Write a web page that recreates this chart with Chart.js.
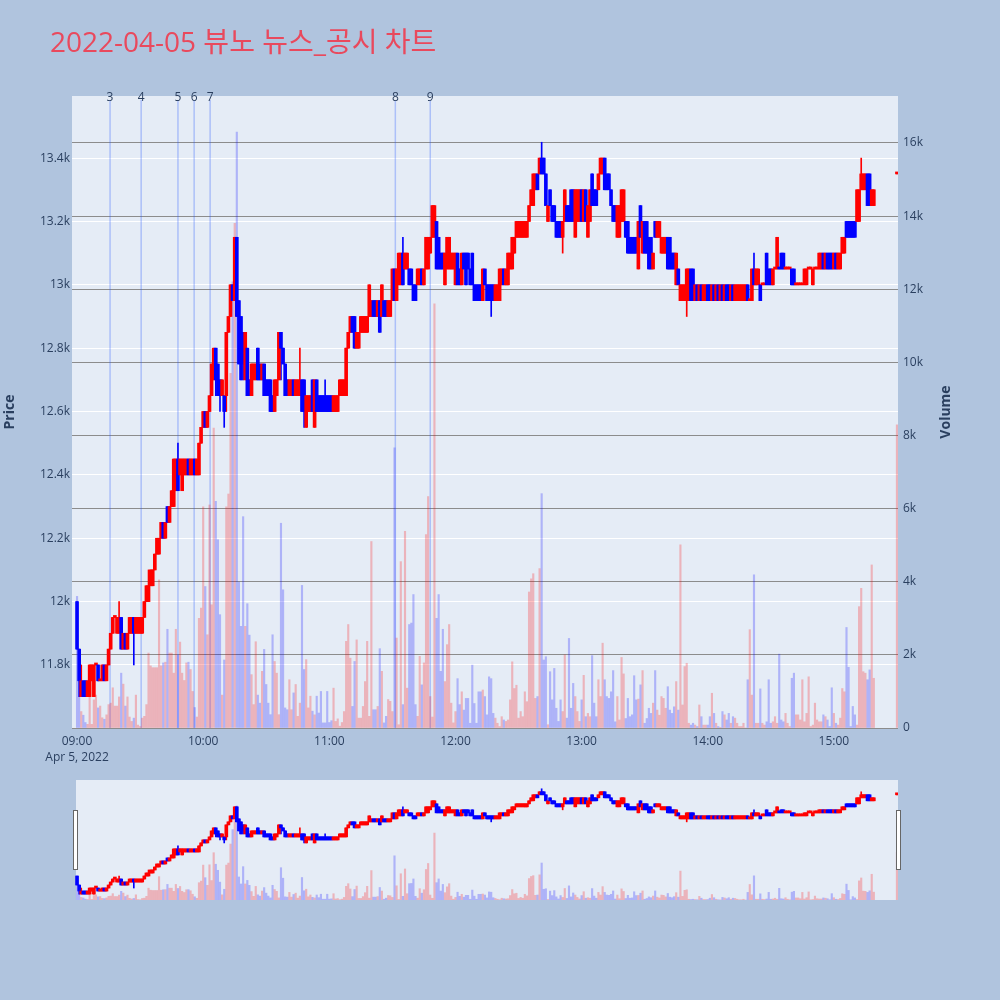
<!DOCTYPE html>
<html>
<head>
<meta charset="utf-8">
<title>2022-04-05 뷰노 뉴스_공시 차트</title>
<script src="https://cdn.jsdelivr.net/npm/chart.js@4.4.1/dist/chart.umd.min.js"></script>
<style>
  html, body { margin: 0; padding: 0; background: #b0c4de; }
  #wrap { position: relative; width: 1000px; height: 1000px; overflow: hidden; }
  #title { position: absolute; left: 50px; top: 20px; font-family: "Open Sans", "Noto Sans CJK KR", sans-serif;
           font-size: 28px; color: #e9495d; white-space: nowrap; }
  #mainChart { position: absolute; left: 0; top: 0; }
  #sliderChart { position: absolute; left: 0; top: 770px; }
</style>
</head>
<body>
<div id="wrap">
  <canvas id="mainChart" width="1000" height="780"></canvas>
  <canvas id="sliderChart" width="1000" height="140"></canvas>
  <div id="title">2022-04-05 뷰노 뉴스_공시 차트</div>
</div>
<script>
// 1-minute candles, 09:00 - 15:19, then the 15:30 closing auction
const times = [];
for (let m = 0; m < 380; m++) times.push(m);
times.push(390);

const opens = [
  12000,11850,11700,11750,11750,11700,11700,11750,11700,11800,
  11800,11750,11750,11800,11750,11800,11850,11900,11950,11900,
  11900,11950,11850,11900,11850,11900,11900,11950,11900,11900,
  11900,11900,11950,12000,12000,12050,12050,12100,12150,12150,
  12200,12250,12200,12300,12250,12300,12300,12350,12450,12400,
  12350,12400,12400,12450,12400,12400,12450,12400,12400,12500,
  12550,12600,12550,12600,12650,12700,12800,12750,12700,12650,
  12650,12650,12850,12900,13000,12950,13150,12950,12900,12850,
  12700,12800,12700,12650,12700,12700,12800,12750,12700,12750,
  12700,12700,12700,12650,12600,12650,12700,12850,12800,12750,
  12700,12650,12650,12700,12650,12650,12650,12700,12700,12550,
  12600,12600,12700,12550,12700,12650,12650,12650,12650,12650,
  12650,12650,12600,12600,12600,12650,12650,12650,12650,12800,
  12850,12900,12900,12800,12800,12850,12850,12850,12850,12900,
  12900,12950,12950,12900,12950,12900,12950,12950,12900,12900,
  12950,13050,12950,13000,13000,13100,13050,13050,13050,13050,
  13000,13000,13000,13000,13050,13000,13050,13050,13100,13150,
  13150,13200,13150,13100,13100,13000,13050,13050,13050,13050,
  13000,13100,13050,13000,13100,13100,13100,13050,13100,13000,
  13000,13000,13000,12950,13050,13000,13000,13000,13000,12950,
  12950,12950,13000,13050,13000,13000,13050,13050,13100,13150,
  13150,13150,13150,13150,13150,13200,13250,13250,13300,13350,
  13350,13400,13400,13350,13200,13300,13250,13250,13200,13200,
  13200,13150,13200,13250,13250,13300,13300,13150,13200,13200,
  13300,13200,13300,13150,13200,13350,13300,13300,13300,13350,
  13350,13400,13350,13350,13300,13250,13250,13150,13150,13200,
  13200,13200,13200,13150,13150,13150,13150,13050,13250,13100,
  13200,13200,13150,13150,13050,13200,13150,13150,13100,13100,
  13100,13150,13150,13100,13100,13000,13050,12950,12950,12950,
  12950,12950,13050,13050,12950,13000,12950,13000,12950,12950,
  13000,13000,12950,13000,12950,13000,12950,13000,12950,13000,
  13000,12950,13000,12950,12950,12950,12950,12950,12950,13000,
  12950,12950,13050,13000,13000,13000,13000,13000,13100,13050,
  13050,13000,13050,13050,13050,13100,13100,13050,13050,13050,
  13050,13050,13000,13000,13000,13000,13000,13000,13050,13050,
  13000,13050,13050,13050,13050,13100,13050,13100,13100,13100,
  13050,13100,13050,13050,13100,13100,13200,13200,13200,13200,
  13200,13200,13200,13300,13300,13300,13350,13350,13250,13250,
  13350
];
const highs = [
  12000,11850,11800,11750,11750,11750,11800,11800,11800,11800,
  11800,11750,11800,11800,11800,11850,11900,11950,11950,11950,
  12000,11950,11900,11900,11900,11950,11950,11950,11950,11950,
  11950,11950,12000,12050,12100,12100,12100,12150,12200,12200,
  12250,12250,12250,12300,12300,12350,12450,12450,12500,12450,
  12450,12450,12450,12450,12450,12450,12450,12450,12500,12550,
  12600,12600,12600,12650,12750,12800,12800,12750,12700,12700,
  12650,12850,12900,13000,13000,13150,13150,12950,12900,12850,
  12850,12800,12700,12750,12750,12750,12800,12750,12750,12750,
  12700,12700,12700,12650,12700,12700,12850,12850,12800,12750,
  12700,12700,12700,12700,12700,12700,12800,12700,12700,12650,
  12650,12650,12700,12700,12700,12650,12650,12650,12700,12650,
  12650,12650,12650,12650,12650,12700,12700,12700,12800,12850,
  12900,12900,12900,12850,12850,12900,12900,12900,12900,13000,
  12950,12950,12950,12950,12950,13000,12950,12950,12950,12950,
  13050,13050,13050,13100,13100,13150,13100,13100,13050,13050,
  13000,13000,13050,13050,13050,13050,13150,13150,13150,13250,
  13250,13200,13150,13100,13100,13100,13150,13150,13100,13100,
  13100,13100,13050,13100,13100,13100,13100,13050,13100,13000,
  13000,13000,13000,13050,13050,13000,13000,13000,13000,13000,
  13000,13050,13050,13050,13050,13100,13100,13150,13150,13200,
  13200,13200,13200,13200,13200,13250,13300,13350,13350,13350,
  13400,13450,13400,13350,13250,13300,13250,13250,13200,13200,
  13200,13200,13300,13250,13250,13300,13300,13300,13300,13300,
  13300,13300,13300,13250,13300,13350,13300,13300,13350,13400,
  13400,13400,13350,13350,13300,13250,13250,13250,13250,13300,
  13300,13200,13200,13150,13150,13150,13150,13200,13250,13200,
  13200,13200,13150,13150,13100,13200,13200,13200,13150,13150,
  13150,13150,13150,13100,13100,13100,13050,13000,13000,13000,
  13050,13050,13050,13050,13000,13000,13000,13000,13000,13000,
  13000,13000,13000,13000,13000,13000,13000,13000,13000,13000,
  13000,13000,13000,13000,13000,13000,13000,13000,13000,13000,
  12950,13050,13100,13050,13050,13000,13000,13000,13100,13050,
  13050,13050,13050,13150,13050,13100,13100,13050,13050,13050,
  13050,13050,13000,13000,13000,13000,13050,13050,13050,13050,
  13050,13050,13050,13100,13100,13100,13100,13100,13100,13100,
  13100,13100,13100,13100,13150,13150,13200,13200,13200,13200,
  13200,13300,13300,13400,13350,13350,13350,13350,13300,13300,
  13350
];
const lows = [
  11850,11700,11700,11700,11700,11700,11700,11750,11700,11800,
  11750,11750,11750,11750,11750,11800,11850,11900,11950,11900,
  11900,11850,11850,11850,11850,11900,11900,11800,11900,11900,
  11900,11900,11950,12000,12000,12050,12050,12100,12150,12150,
  12200,12200,12200,12250,12250,12300,12300,12350,12350,12400,
  12350,12400,12400,12400,12400,12400,12400,12400,12400,12500,
  12550,12550,12550,12600,12650,12700,12650,12650,12600,12650,
  12550,12600,12850,12900,12950,12950,12900,12750,12700,12700,
  12700,12650,12650,12650,12700,12700,12700,12700,12700,12650,
  12650,12650,12600,12600,12600,12650,12700,12700,12750,12650,
  12650,12650,12650,12650,12650,12650,12650,12600,12550,12550,
  12600,12600,12600,12550,12600,12600,12600,12600,12600,12600,
  12600,12600,12600,12600,12600,12650,12650,12650,12650,12800,
  12850,12850,12800,12800,12800,12850,12850,12850,12850,12900,
  12900,12900,12900,12900,12850,12900,12900,12900,12900,12900,
  12950,12950,12950,13000,13000,13000,13050,13050,13000,13000,
  12950,12950,13000,13000,13000,13000,13050,13050,13100,13150,
  13150,13050,13050,13050,13050,13000,13050,13050,13050,13050,
  13000,13000,13000,13000,13050,13000,13050,13000,13000,12950,
  12950,12950,12950,12950,13000,12950,12950,12900,12950,12950,
  12950,12950,13000,13000,13000,13000,13050,13050,13100,13150,
  13150,13150,13150,13150,13150,13200,13250,13250,13300,13300,
  13350,13350,13350,13250,13200,13250,13200,13200,13150,13150,
  13150,13100,13200,13200,13200,13200,13200,13150,13200,13200,
  13200,13200,13200,13150,13200,13250,13250,13250,13300,13350,
  13350,13300,13300,13300,13250,13200,13200,13150,13150,13200,
  13200,13150,13100,13100,13100,13100,13100,13050,13150,13100,
  13100,13100,13050,13050,13050,13150,13150,13150,13100,13100,
  13100,13050,13050,13050,13050,13000,13000,12950,12950,12950,
  12900,12950,12950,12950,12950,12950,12950,12950,12950,12950,
  12950,12950,12950,12950,12950,12950,12950,12950,12950,12950,
  12950,12950,12950,12950,12950,12950,12950,12950,12950,12950,
  12950,12950,13000,13000,13000,12950,13000,13000,13000,13000,
  13000,13000,13050,13050,13050,13050,13050,13050,13050,13050,
  13000,13000,13000,13000,13000,13000,13000,13000,13050,13050,
  13000,13050,13050,13050,13050,13050,13050,13050,13050,13050,
  13050,13050,13050,13050,13100,13100,13150,13150,13150,13150,
  13150,13200,13200,13300,13300,13300,13250,13250,13250,13250,
  13350
];
const closes = [
  11850,11750,11750,11700,11700,11750,11800,11800,11800,11800,
  11750,11750,11800,11750,11800,11850,11900,11950,11950,11950,
  11950,11850,11900,11850,11900,11950,11950,11900,11950,11950,
  11950,11950,12000,12050,12050,12100,12100,12150,12200,12200,
  12250,12200,12250,12250,12300,12350,12450,12450,12350,12450,
  12450,12450,12450,12400,12450,12450,12400,12450,12500,12550,
  12600,12550,12600,12650,12750,12800,12700,12650,12650,12700,
  12600,12850,12900,13000,12950,13150,12900,12750,12700,12750,
  12850,12650,12650,12750,12750,12750,12700,12700,12750,12650,
  12650,12650,12600,12600,12700,12700,12850,12800,12750,12650,
  12650,12700,12700,12650,12700,12700,12700,12600,12600,12650,
  12650,12650,12600,12700,12600,12600,12600,12600,12600,12600,
  12600,12600,12650,12650,12650,12700,12700,12700,12800,12850,
  12900,12850,12800,12850,12850,12900,12900,12900,12900,13000,
  12950,12900,12900,12950,12850,13000,12900,12900,12950,12950,
  13050,12950,13050,13100,13100,13000,13100,13100,13000,13000,
  12950,12950,13050,13050,13000,13050,13150,13150,13150,13250,
  13250,13050,13050,13050,13050,13100,13150,13150,13100,13100,
  13100,13000,13000,13100,13050,13000,13050,13000,13000,12950,
  12950,12950,12950,13050,13000,12950,12950,12950,12950,13000,
  13000,13050,13050,13000,13050,13100,13100,13150,13150,13200,
  13200,13200,13200,13200,13200,13250,13300,13350,13350,13300,
  13400,13350,13350,13250,13250,13250,13200,13200,13150,13150,
  13150,13200,13300,13200,13200,13200,13200,13300,13300,13300,
  13200,13300,13200,13250,13300,13250,13250,13250,13350,13400,
  13400,13300,13300,13300,13250,13200,13200,13250,13250,13300,
  13300,13150,13100,13100,13100,13100,13100,13200,13150,13200,
  13100,13100,13050,13050,13100,13150,13200,13200,13150,13150,
  13150,13050,13050,13050,13050,13100,13000,13000,13000,13000,
  13050,13050,12950,12950,13000,12950,13000,12950,13000,13000,
  12950,12950,13000,12950,13000,12950,13000,12950,13000,12950,
  12950,13000,12950,13000,13000,13000,13000,13000,13000,12950,
  12950,13050,13000,13050,13050,12950,13000,13000,13000,13000,
  13000,13050,13050,13150,13050,13050,13050,13050,13050,13050,
  13000,13000,13000,13000,13000,13000,13050,13050,13050,13050,
  13050,13050,13050,13100,13100,13050,13100,13050,13050,13050,
  13100,13050,13100,13100,13150,13150,13150,13150,13150,13150,
  13150,13300,13300,13350,13350,13350,13250,13250,13300,13300,
  13350
];
const volumes = [
  3600,1700,450,350,150,100,950,100,770,900,
  550,600,280,240,360,640,680,1100,600,600,
  850,1500,1200,600,850,300,180,270,900,80,
  40,270,320,640,2050,1700,1650,1650,1650,4050,
  1700,1780,1800,2700,2050,2050,1500,2700,2000,2350,
  1500,1300,1780,1800,1600,1000,560,300,3000,3280,
  6050,3870,2550,6100,3370,8200,6200,5150,3100,900,
  1860,6050,6400,9700,12200,13800,16300,3990,2780,5780,
  2780,3400,2540,1460,640,2360,900,680,1550,2150,
  1190,680,365,2550,1820,1500,365,5600,3780,550,
  500,1320,500,960,1190,320,680,3900,1600,1870,
  550,870,460,360,870,410,1000,140,140,1000,
  150,200,1090,180,250,50,150,450,2370,2830,
  1910,590,1820,2410,270,270,590,1270,2370,320,
  5100,500,500,590,2170,1550,140,320,780,730,
  450,7660,2460,90,4550,640,5380,1090,2830,2870,
  3650,640,320,1960,1180,1780,5290,6330,860,300,
  11600,3000,3650,1550,2700,1270,2280,2830,680,140,
  450,1350,640,990,490,810,810,130,1720,670,
  130,990,990,1040,860,360,1400,1350,400,270,
  130,40,310,220,180,220,770,1810,1080,1170,
  270,450,310,990,720,3720,4080,4220,810,860,
  4360,6410,1860,1950,90,1540,770,1630,540,180,
  770,450,2000,270,2450,540,1220,860,450,180,
  770,1440,310,400,310,1980,680,310,1320,860,
  2320,1320,860,810,990,1570,170,860,220,1930,
  1480,260,810,310,360,1430,770,790,1180,1570,
  130,260,540,400,680,1570,490,350,860,810,
  540,1130,490,400,580,1270,490,5010,630,1680,
  1770,130,80,130,80,40,630,310,80,80,
  80,310,950,400,130,40,20,450,360,220,
  400,130,310,270,130,40,40,130,0,1320,
  2690,900,4190,130,130,1070,130,80,170,1320,
  130,170,310,130,2020,220,170,400,130,40,
  1360,1500,360,360,220,1320,170,400,1400,40,
  80,680,220,170,170,360,310,220,40,1100,
  400,130,80,270,1080,990,2750,1660,40,590,
  360,80,3320,3820,1540,1500,1320,1590,4460,1360,
  8290
];

// news / disclosure markers (minutes after 09:00)
const newsMinutes = [15.7, 30.5, 48, 55.7, 63.3, 151.4, 168];
const newsLabels = ['3', '4', '5', '6', '7', '8', '9'];

const hourTicks = [0, 60, 120, 180, 240, 300, 360];
const hourLabels = ['09:00', '10:00', '11:00', '12:00', '13:00', '14:00', '15:00'];
const dateLabel = 'Apr 5, 2022';
const priceTicks = [11800, 12000, 12200, 12400, 12600, 12800, 13000, 13200, 13400];
const volumeTicks = [0, 2000, 4000, 6000, 8000, 10000, 12000, 14000, 16000];

const PRICE_MIN = 11601, PRICE_MAX = 13596;
const VOL_MAX = 17285;
const SLIDER_VOL_MAX = 20800;
const TEXT = '#2a3f5f';

Chart.defaults.font.family = '"Open Sans", "Noto Sans CJK KR", sans-serif';
Chart.defaults.font.size = 12;
Chart.defaults.color = TEXT;

const isUp = (i) => {
  if (closes[i] !== opens[i]) return closes[i] > opens[i];
  return i === 0 || closes[i] >= closes[i - 1];
};
const candleColors = times.map((t, i) => (isUp(i) ? '#ff0000' : '#0000ff'));
const volColors = times.map((t, i) => (isUp(i) ? 'rgba(255,0,0,0.24)' : 'rgba(0,0,255,0.24)'));

const fmtK = (v) => (v === 0 ? '0' : `${v / 1000}k`);

const makeDatasets = (volThick, wickThick, bodyThick) => [
  {
    label: 'Volume', yAxisID: 'yVol', order: 3, grouped: false,
    data: times.map((t, i) => ({ x: t, y: volumes[i] })),
    backgroundColor: volColors, barThickness: volThick,
  },
  {
    label: 'Wick', yAxisID: 'yPrice', order: 2, grouped: false,
    data: times.map((t, i) => ({ x: t, y: [lows[i], highs[i]] })),
    backgroundColor: candleColors, barThickness: wickThick, minBarLength: 1,
  },
  {
    label: 'Price', yAxisID: 'yPrice', order: 1, grouped: false,
    data: times.map((t, i) => ({ x: t, y: [opens[i], closes[i]] })),
    backgroundColor: candleColors, barThickness: bodyThick, minBarLength: 2,
  },
];

const plotBg = {
  id: 'plotBg',
  beforeDraw(chart, args, opts) {
    const { ctx, chartArea: a } = chart;
    const left = a.left + (opts.inset || 0);
    ctx.save();
    ctx.fillStyle = '#e5ecf6';
    ctx.fillRect(left, a.top, a.right - left, a.bottom - a.top);
    ctx.restore();
  },
};

const newsLines = {
  id: 'newsLines',
  beforeDatasetsDraw(chart) {
    const { ctx, chartArea: a, scales } = chart;
    ctx.save();
    ctx.strokeStyle = 'rgba(40,90,255,0.3)';
    ctx.lineWidth = 1.5;
    newsMinutes.forEach((m) => {
      const x = scales.x.getPixelForValue(m);
      ctx.beginPath();
      ctx.moveTo(x, a.top + 4);
      ctx.lineTo(x, a.bottom);
      ctx.stroke();
    });
    ctx.restore();
  },
  afterDraw(chart) {
    const { ctx, chartArea: a, scales } = chart;
    ctx.save();
    ctx.fillStyle = TEXT;
    ctx.font = '12px "Open Sans"';
    ctx.textAlign = 'center';
    ctx.textBaseline = 'alphabetic';
    newsMinutes.forEach((m, i) => {
      ctx.fillText(newsLabels[i], scales.x.getPixelForValue(m), a.top + 5);
    });
    // axis titles
    const midY = (a.top + a.bottom) / 2;
    ctx.font = 'bold 14px "Open Sans"';
    ctx.textBaseline = 'middle';
    ctx.translate(10, midY);
    ctx.rotate(-Math.PI / 2);
    ctx.fillText('Price', 0, 0);
    ctx.rotate(Math.PI / 2);
    ctx.translate(-10, -midY);
    ctx.translate(946, midY);
    ctx.rotate(-Math.PI / 2);
    ctx.fillText('Volume', 0, 0);
    ctx.restore();
  },
};

new Chart(document.getElementById('mainChart'), {
  type: 'bar',
  data: { datasets: makeDatasets(1.5, 1, 3) },
  options: {
    responsive: false,
    animation: false,
    devicePixelRatio: 1,
    layout: { padding: { top: 96, left: 0, right: 0, bottom: 0 } },
    plugins: { legend: { display: false }, tooltip: { enabled: false }, plotBg: { inset: 0 } },
    scales: {
      x: {
        type: 'linear', min: -2.4, max: 390.5, offset: false,
        grid: { display: false, drawTicks: false }, border: { display: false },
        afterBuildTicks: (s) => { s.ticks = hourTicks.map((v) => ({ value: v })); },
        afterFit: (s) => { s.height = 52; },
        ticks: {
          autoSkip: false, maxRotation: 0, padding: 6, color: TEXT,
          font: { size: 12, lineHeight: 1.33 },
          callback: (v) => {
            const k = hourTicks.indexOf(v);
            return k === 0 ? [hourLabels[0], dateLabel] : hourLabels[k];
          },
        },
      },
      yPrice: {
        position: 'left', min: PRICE_MIN, max: PRICE_MAX,
        grid: { color: '#ffffff', lineWidth: 1, drawTicks: false },
        border: { display: false },
        afterBuildTicks: (s) => { s.ticks = priceTicks.map((v) => ({ value: v })); },
        afterFit: (s) => { s.width = 72; },
        ticks: { padding: 2, color: TEXT, callback: fmtK },
      },
      yVol: {
        position: 'right', min: 0, max: VOL_MAX,
        grid: { color: '#8c8c8c', lineWidth: 1, drawTicks: false },
        border: { display: false },
        afterBuildTicks: (s) => { s.ticks = volumeTicks.map((v) => ({ value: v })); },
        afterFit: (s) => { s.width = 102; },
        ticks: { padding: 5, color: TEXT, callback: fmtK },
      },
    },
  },
  plugins: [plotBg, newsLines],
});

// range slider below the main plot
const sliderHandles = {
  id: 'sliderHandles',
  afterDraw(chart) {
    const { ctx, chartArea: a } = chart;
    ctx.save();
    ctx.fillStyle = '#ffffff';
    ctx.strokeStyle = '#666666';
    ctx.lineWidth = 1;
    const hy = a.top + 30;
    [73, 896].forEach((x) => {
      ctx.fillRect(x, hy, 5, 60);
      ctx.strokeRect(x + 0.5, hy + 0.5, 4, 59);
    });
    ctx.restore();
  },
};

new Chart(document.getElementById('sliderChart'), {
  type: 'bar',
  data: { datasets: makeDatasets(1.5, 1, 3) },
  options: {
    responsive: false,
    animation: false,
    devicePixelRatio: 1,
    layout: { padding: { top: 10, left: 72, right: 102, bottom: 10 } },
    plugins: { legend: { display: false }, tooltip: { enabled: false }, plotBg: { inset: 4 } },
    scales: {
      x: { type: 'linear', min: -2.4, max: 390.5, offset: false, display: false },
      yPrice: { position: 'left', min: PRICE_MIN, max: PRICE_MAX, display: false },
      yVol: { position: 'right', min: 0, max: SLIDER_VOL_MAX, display: false },
    },
  },
  plugins: [plotBg, sliderHandles],
});
</script>
</body>
</html>
